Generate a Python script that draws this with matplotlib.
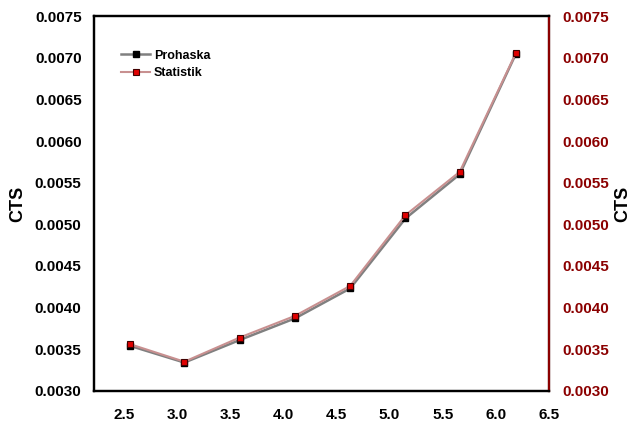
import matplotlib.pyplot as plt

# CTS values from both methods
x_vals = [2.56, 3.07, 3.59, 4.11, 4.63, 5.15, 5.66, 6.19]
prohaska = [0.00354, 0.00334, 0.00361, 0.00387, 0.00423, 0.00507, 0.00560, 0.00705]
statistik = [0.00356, 0.00335, 0.00364, 0.00390, 0.00426, 0.00511, 0.00563, 0.00706]

x_ticks = [2.5, 3.0, 3.5, 4.0, 4.5, 5.0, 5.5, 6.0, 6.5]
y_ticks = [0.0030, 0.0035, 0.0040, 0.0045, 0.0050, 0.0055, 0.0060, 0.0065, 0.0070, 0.0075]

dark_red = '#8b0000'

plt.rcParams['font.family'] = ['Liberation Sans', 'DejaVu Sans']
plt.rcParams['font.weight'] = 'bold'

fig = plt.figure(figsize=(6.31, 4.23), dpi=100)
ax = fig.add_axes([0.149, 0.076, 0.721, 0.886])
ax2 = ax.twinx()

# Prohaska on the left axis
l1, = ax.plot(x_vals, prohaska, color='#808080', lw=1.8, marker='s', ms=5,
              mfc='black', mec='black', label='Prohaska', zorder=3)

# Statistik on the right (red) axis
l2, = ax2.plot(x_vals, statistik, color='#c89090', lw=1.5, marker='s', ms=5,
               mfc='#e00000', mec='#400000', mew=0.8, label='Statistik', zorder=4)

for a in (ax, ax2):
    a.set_xlim(2.22, 6.5)
    a.set_ylim(0.0030, 0.0075)
    a.set_yticks(y_ticks)
    a.set_yticklabels(['%.4f' % v for v in y_ticks])

ax.set_xticks(x_ticks)
ax.set_xticklabels(['%.1f' % v for v in x_ticks])

ax.tick_params(axis='both', length=0, labelsize=11)
ax.tick_params(axis='y', pad=9)
ax.tick_params(axis='x', pad=12)
ax2.tick_params(axis='y', length=0, labelsize=11, pad=10, labelcolor=dark_red)

for s in ax.spines.values():
    s.set_linewidth(1.6)
for s in ax2.spines.values():
    s.set_linewidth(1.6)
ax2.spines['right'].set_color(dark_red)

ax.set_ylabel('CTS', fontsize=13, fontweight='bold', labelpad=6)
ax2.set_ylabel('CTS', fontsize=13, fontweight='bold', labelpad=3, rotation=90)

ax.legend(handles=[l1, l2], loc='upper left', bbox_to_anchor=(0.035, 0.94),
          frameon=False, fontsize=9, handlelength=2.3, handletextpad=0.3,
          labelspacing=0.45)

plt.savefig('out.png', dpi=100)
